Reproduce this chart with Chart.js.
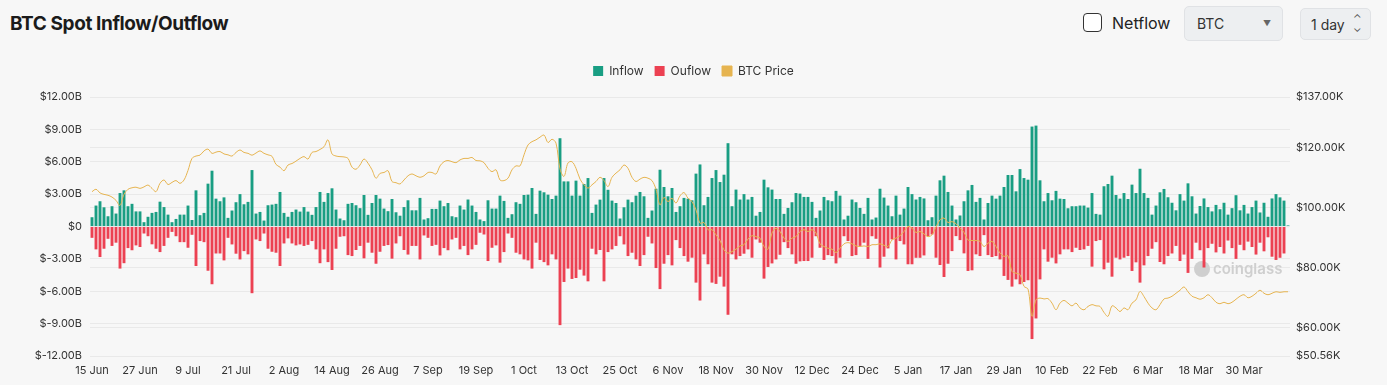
<!DOCTYPE html>
<html>
<head>
<meta charset="utf-8">
<title>BTC Spot Inflow/Outflow</title>
<script src="https://cdn.jsdelivr.net/npm/chart.js"></script>
<style>
  body { margin: 0; background: #f7f7f7; font-family: Inter, 'Noto Sans', sans-serif; width: 1387px; height: 385px; overflow: hidden; position: relative; }
  .title { position: absolute; left: 10px; top: 12px; font-size: 19px; font-weight: 700; color: #1b1b1b; letter-spacing: -0.4px; }
  .chk { position: absolute; left: 1083px; top: 13px; width: 17px; height: 17px; border: 1.5px solid #333; border-radius: 4px; background: #fff; }
  .netflow { position: absolute; left: 1112px; top: 13px; font-size: 16px; color: #222; }
  .sel { position: absolute; background: #edeff1; border: 1px solid #e0e2e5; border-radius: 5px; font-size: 14px; color: #333; box-sizing: border-box; }
  .sel span { position: absolute; top: 8px; }
  #wrap { position: absolute; left: 0; top: 50px; width: 1387px; height: 335px; }
</style>
</head>
<body>
<div class="title">BTC Spot Inflow/Outflow</div>
<div class="chk"></div>
<div class="netflow">Netflow</div>
<div class="sel" style="left:1184px;top:6px;width:99px;height:35px;"><span style="left:12px;">BTC</span><span style="left:78px;top:11px;font-size:8px;color:#666;">&#9660;</span></div>
<div class="sel" style="left:1300px;top:8px;width:71px;height:32px;"><span style="left:10px;top:7px;">1 day</span><span style="left:52px;top:4px;font-size:11px;line-height:10px;color:#555;">&#8963;<br>&#8964;</span></div>
<div id="wrap"><canvas id="myChart"></canvas></div>
<script>
let startDate = new Date(2025, 5, 15);
let dayCount = 300;
let monthNames = ['Jan','Feb','Mar','Apr','May','Jun','Jul','Aug','Sep','Oct','Nov','Dec'];

let inflow = [
  0.86,1.94,2.34,1.78,0.95,1.88,1.2,3.1,3.35,1.88,2.1,1.4,1.4,0.4,0.9,1.26,1.35,2.3,1.8,1.1,0.4,0.7,1.1,1.1,1.94,0.6,3.35,1.05,1.26,3.97,
  5.17,2.58,2.34,2.7,0.8,1.48,2.25,3.0,2.06,2.28,5.23,1.2,1.35,0.55,1.97,2.03,2.1,3.2,1.26,0.9,1.35,1.57,1.38,1.8,1.38,1.08,1.8,3.2,2.28,3.1,
  3.54,1.57,0.74,0.58,2.1,2.18,1.97,1.7,2.92,1.08,2.18,2.92,2.58,1.66,1.42,2.55,1.32,1.0,1.8,2.43,1.5,1.5,2.65,0.65,0.77,1.63,1.63,2.4,1.88,2.18,
  0.95,0.86,1.94,1.57,2.5,1.94,1.35,0.65,0.5,2.43,1.66,1.66,2.86,2.37,0.8,1.14,2.25,2.1,2.92,2.95,3.57,1.17,3.32,3.17,2.95,2.55,2.86,8.18,4.18,4.18,
  2.86,4.25,2.86,3.94,4.49,1.26,2.03,2.49,4.49,3.4,2.4,2.18,0.74,1.78,2.49,2.25,2.86,3.2,2.8,0.8,1.48,3.5,5.26,3.66,2.8,3.57,1.35,1.88,2.65,2.58,
  2.43,4.9,5.75,1.97,2.74,4.49,5.23,4.12,4.8,7.72,1.88,3.42,2.5,3.0,2.5,2.74,1.0,1.35,4.34,3.63,3.42,2.55,2.55,1.17,1.72,2.25,3.1,3.05,2.74,2.74,
  2.28,0.8,1.48,2.74,2.43,2.34,3.3,2.86,0.65,1.0,2.5,2.25,1.72,1.17,2.65,0.65,0.83,3.5,2.68,1.94,0.95,2.86,1.1,1.66,3.66,3.0,2.5,2.74,2.6,0.58,
  0.86,2.86,4.28,4.71,3.2,1.94,0.65,1.02,2.34,3.35,3.85,2.28,2.65,0.65,2.18,2.86,2.58,2.86,3.66,4.77,4.77,3.26,5.32,4.49,4.34,9.26,9.35,4.28,2.34,3.1,
  2.43,3.3,2.58,2.55,1.69,1.88,1.88,1.94,1.94,1.75,3.1,1.17,1.1,3.73,3.94,4.71,2.92,2.58,3.1,2.55,3.88,3.1,5.35,3.1,2.65,1.1,1.94,3.17,3.48,2.71,
  2.2,1.5,3.0,2.4,4.0,2.8,1.2,1.9,2.6,1.8,1.4,2.0,1.6,2.2,1.1,1.7,2.9,1.5,2.0,1.2,1.8,2.4,1.3,2.2,0.9,2.6,3.0,2.7,2.4,0.1
];

let outflow = [
  -1.05,-2.12,-2.83,-2.06,-1.14,-1.8,-1.5,-3.9,-3.4,-2.0,-2.2,-1.75,-1.9,-0.65,-0.9,-1.65,-2.06,-2.37,-1.8,-1.05,-0.5,-0.9,-1.45,-1.45,-1.97,-0.77,-3.66,-1.35,-1.45,-4.1,
  -5.35,-2.5,-2.5,-3.14,-1.05,-1.66,-2.52,-3.05,-2.28,-2.58,-6.18,-1.2,-1.35,-0.65,-2.06,-2.34,-2.43,-3.66,-1.57,-1.1,-1.57,-1.75,-1.66,-1.8,-1.7,-1.35,-2.12,-3.4,-2.12,-3.3,
  -4.03,-2.06,-0.95,-0.9,-2.65,-2.74,-2.18,-1.8,-2.95,-1.5,-2.43,-3.45,-2.34,-1.8,-1.72,-2.98,-1.57,-0.9,-2.18,-2.6,-1.8,-1.8,-3.05,-0.83,-1.05,-1.8,-1.7,-2.68,-2.0,-2.2,
  -1.2,-1.05,-2.12,-1.8,-2.65,-2.12,-1.7,-0.58,-0.74,-3.2,-1.97,-1.75,-3.35,-2.37,-0.65,-1.05,-2.43,-2.58,-3.05,-3.14,-3.9,-1.5,-3.1,-3.3,-3.6,-2.58,-3.05,-9.14,-5.14,-3.9,
  -4.86,-4.77,-4.0,-4.55,-5.08,-2.06,-2.58,-2.18,-5.08,-2.37,-2.12,-1.8,-0.9,-1.66,-2.74,-2.43,-3.05,-3.66,-2.65,-0.95,-1.57,-3.85,-5.8,-3.45,-2.65,-3.6,-1.26,-2.0,-2.74,-3.26,
  -2.89,-5.2,-6.86,-2.58,-3.5,-5.2,-5.32,-4.65,-5.57,-8.18,-2.58,-3.05,-2.74,-2.52,-2.12,-2.89,-1.2,-1.5,-4.83,-3.75,-3.42,-3.05,-2.62,-1.45,-2.0,-2.58,-3.45,-3.23,-3.2,-3.2,
  -2.89,-0.9,-1.97,-3.1,-2.65,-2.74,-3.42,-2.89,-0.9,-1.35,-2.74,-2.65,-1.8,-1.5,-3.0,-0.9,-1.14,-3.8,-2.8,-2.03,-1.2,-3.05,-1.35,-1.66,-3.5,-3.5,-2.9,-2.9,-2.68,-0.9,
  -0.74,-2.89,-3.57,-4.68,-3.45,-2.28,-0.89,-1.26,-2.49,-4.12,-4.06,-2.58,-2.74,-0.8,-2.65,-2.83,-2.74,-3.05,-4.58,-4.95,-5.57,-4.9,-5.35,-5.14,-4.98,-10.43,-8.52,-4.9,-2.12,-3.26,
  -2.89,-3.42,-2.58,-2.12,-2.12,-2.37,-1.97,-2.18,-2.12,-1.8,-3.72,-1.35,-1.26,-3.97,-3.35,-4.65,-2.89,-3.05,-2.89,-2.74,-4.12,-3.32,-5.2,-3.6,-2.74,-2.06,-1.45,-3.29,-3.5,-2.74,
  -2.5,-1.8,-3.2,-2.6,-4.3,-3.0,-1.5,-2.2,-3.8,-2.0,-1.6,-2.4,-1.9,-2.5,-1.3,-2.0,-3.0,-1.7,-2.2,-1.4,-1.9,-2.6,-1.5,-2.3,-1.0,-2.8,-3.1,-2.9,-2.5,-0.05
];

let btcPrice = [
  105.4,106.2,105,104.5,104.2,103.6,102.5,100.8,104.5,106.2,106.7,106.9,106.5,107,107.6,106.5,105.4,108.2,109.3,107.8,108.5,109.1,108.2,109.3,112.5,116.5,117.3,117.6,119,119.6,
  118.2,118.6,118.8,118,117.7,117.3,118.5,119.3,118.5,118.2,117.6,118.3,119,118.2,117.7,117.2,114.5,113.6,112.4,114.3,114.8,115.6,116.5,117.1,116.3,118.5,118.8,119.5,120.4,122.7,
  118,117.3,117.1,117,116.5,113.6,112.9,114.3,116.3,114.9,112.7,109.9,111.5,111.8,112.4,108.8,108.4,108,109.3,110.7,111.3,110.7,110.2,110.7,111.8,111.8,111.3,114,115.4,115.8,
  115.4,115.1,116,116.5,116.5,116.8,115.8,115.7,115.1,113.2,112.1,112.7,109.3,109.1,109.9,112.7,114,114,117.7,121,122.1,122.7,123.6,124.3,121.8,122.9,121.6,113,110.5,115,
  115.4,113.2,109.6,107.7,106.6,107.7,108.8,110.2,109.1,107.1,110.2,111.6,112.7,114.3,113.2,110.2,108.8,109.6,110.2,109.9,109.1,106.2,101,103.5,102.1,103.2,101.6,104,105.1,103.2,
  102.1,99.3,94.9,95.1,92.7,92.7,91,89.1,86,84.9,85.4,86.2,87.3,87.7,89.6,90.7,90.4,89.9,87.1,86.2,91.6,93.2,92.1,89.9,88.8,89.9,90.4,92.1,92.7,92.1,
  92.7,91.6,88,87.1,86.5,86.2,85.1,86.5,88,88.4,88,87.3,87.1,87.3,87.1,87.7,87.7,88,87.5,87.1,89.3,89.9,90.7,92.1,93.8,93.2,91.8,92.1,91.3,90.4,
  91,93.6,96,96.6,95.1,95.4,94.7,93.2,91.8,89.3,89.1,89.1,88.8,87.1,88.2,88.8,87.1,84.9,83.8,84,78.8,78.2,77.7,73.8,72.9,63.8,69.3,69.9,69.6,69.7,
  68.2,66,68.2,69.1,68.2,67.3,68.2,66.6,66,67.1,67.7,67.3,67.1,65.1,63.8,67.3,66.6,65.4,66.6,66,68.2,69.3,72.1,70.4,68.2,66.6,66,67.7,69.6,69.9,
  70.5,71.5,72.5,73.6,72,70.5,70,69.5,70,71,70,68.5,68,68.5,68,68.5,69.5,70.5,71,70,70.5,71.5,72.5,71.5,71,71.5,72,71.8,72,72
];

let leftTicks = [-12, -9, -6, -3, 0, 3, 6, 9, 12];
let rightTicks = [50.56, 60, 80, 100, 120, 137];

let labels = [];
for (let i = 0; i < dayCount; i++) {
  let d = new Date(startDate.getFullYear(), startDate.getMonth(), startDate.getDate() + i);
  labels.push(d.getDate() + ' ' + monthNames[d.getMonth()]);
}

// keep the legend block at a fixed height so the plot starts where the original does
let legendHeight = {
  id: 'legendHeight',
  beforeInit(chart) {
    let fit = chart.legend.fit;
    chart.legend.fit = function() {
      fit.bind(chart.legend)();
      this.height = 43;
    };
  }
};

let watermark = {
  id: 'watermark',
  beforeDatasetsDraw(chart) {
    let ctx = chart.ctx;
    ctx.save();
    ctx.fillStyle = '#cfcfcf';
    ctx.beginPath();
    ctx.arc(1202, 219, 8, 0, Math.PI * 2);
    ctx.fill();
    ctx.font = '600 15px Inter, sans-serif';
    ctx.textBaseline = 'middle';
    ctx.fillText('coinglass', 1213, 219);
    ctx.restore();
  }
};

let canvas = document.getElementById('myChart');
let ctx = canvas.getContext('2d');

let myChart = new Chart(ctx, {
  type: 'bar',
  data: {
    labels: labels,
    datasets: [{
      label: 'Inflow',
      data: inflow,
      backgroundColor: '#199e83',
      borderWidth: 0,
      barPercentage: 0.72,
      categoryPercentage: 1,
      order: 1
    }, {
      label: 'Ouflow',
      data: outflow,
      backgroundColor: '#ec4152',
      borderWidth: 0,
      barPercentage: 0.72,
      categoryPercentage: 1,
      order: 1
    }, {
      type: 'line',
      label: 'BTC Price',
      data: btcPrice,
      yAxisID: 'y1',
      borderColor: '#e6b450',
      backgroundColor: '#e6b450',
      borderWidth: 1,
      pointRadius: 0,
      tension: 0.35,
      order: 0
    }]
  },
  options: {
    responsive: true,
    maintainAspectRatio: false,
    animation: false,
    layout: { padding: { top: 4 } },
    plugins: {
      legend: {
        labels: {
          boxWidth: 10,
          boxHeight: 10,
          padding: 11,
          color: '#333',
          font: { family: 'Inter', size: 12 },
          sort: (a, b) => a.datasetIndex - b.datasetIndex
        }
      },
      tooltip: { enabled: false }
    },
    scales: {
      x: {
        stacked: true,
        grid: { display: false },
        border: { display: false },
        ticks: {
          autoSkip: false,
          maxRotation: 0,
          color: '#333',
          font: { family: 'Inter', size: 11 },
          padding: 0,
          callback: function(val, i) { return i % 12 === 0 ? this.getLabelForValue(val) : ''; }
        },
        afterFit: function(scale) { scale.height = 29; }
      },
      y: {
        stacked: true,
        position: 'left',
        min: -12,
        max: 12,
        afterBuildTicks: function(scale) { scale.ticks = leftTicks.map(v => ({ value: v })); },
        grid: { color: '#e9e9e9', drawTicks: false },
        border: { display: false },
        ticks: {
          color: '#333',
          padding: 8,
          font: { family: 'Inter', size: 11 },
          callback: v => v === 0 ? '$0' : '$' + v.toFixed(2) + 'B'
        },
        afterFit: function(scale) { scale.width = 90; }
      },
      y1: {
        position: 'right',
        min: 50.56,
        max: 137,
        afterBuildTicks: function(scale) { scale.ticks = rightTicks.map(v => ({ value: v })); },
        grid: { color: '#e9e9e9', drawTicks: false },
        border: { display: false },
        ticks: {
          color: '#333',
          padding: 6,
          font: { family: 'Inter', size: 11 },
          callback: v => '$' + v.toFixed(2) + 'K'
        },
        afterFit: function(scale) { scale.width = 97; }
      }
    }
  },
  plugins: [legendHeight, watermark]
});
</script>
</body>
</html>
